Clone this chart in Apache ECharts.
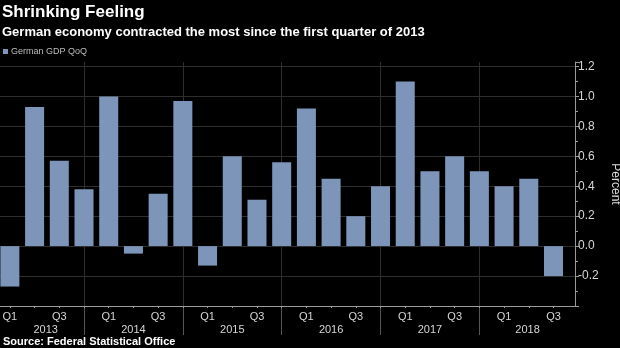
<!DOCTYPE html>
<html><head><meta charset="utf-8">
<script src="https://cdn.jsdelivr.net/npm/echarts@6/dist/echarts.min.js"></script>
<style>html,body{margin:0;padding:0;background:#000;}#c{width:620px;height:348px;}</style>
</head><body><div id="c"></div>
<script>
const categories = ['Q1 2013','Q2 2013','Q3 2013','Q4 2013','Q1 2014','Q2 2014','Q3 2014','Q4 2014',
  'Q1 2015','Q2 2015','Q3 2015','Q4 2015','Q1 2016','Q2 2016','Q3 2016','Q4 2016',
  'Q1 2017','Q2 2017','Q3 2017','Q4 2017','Q1 2018','Q2 2018','Q3 2018'];
const gdpQoQ = [-0.27,0.93,0.57,0.38,1.00,-0.05,0.35,0.97,-0.13,0.60,0.31,0.56,
  0.92,0.45,0.20,0.40,1.10,0.50,0.60,0.50,0.40,0.45,-0.20];
const years = ['2013','2014','2015','2016','2017','2018'];
const yTickLabels = ['-0.2','0.0','0.2','0.4','0.6','0.8','1.0','1.2'];

const X_MIN = -0.4, X_MAX = 22.87;
const qLabelIdx = [], allIdx = [], sepIdx = [];
categories.forEach((c, i) => {
  const q = c.split(' ')[0];
  allIdx.push(i);
  if (q === 'Q1' || q === 'Q3') qLabelIdx.push(i);
  if (q === 'Q4') sepIdx.push(i);
});
const bounds = [-0.1].concat(sepIdx).concat([22.9]);
const yearCenters = years.map((y, k) => (bounds[k] + bounds[k + 1]) / 2);

const axisColor = '#9a9a9a';
const labelColor = '#d6d6d6';
const font = 'Liberation Sans';
const gridColor = '#2e2e2e';

const chart = echarts.init(document.getElementById('c'));
chart.setOption({
  backgroundColor: '#000',
  animation: false,
  title: {
    text: 'Shrinking Feeling',
    subtext: 'German economy contracted the most since the first quarter of 2013',
    left: 0, top: 2, itemGap: 5, padding: [2, 2],
    textStyle: { color: '#fff', fontSize: 17, fontWeight: 'bold', fontFamily: font },
    subtextStyle: { color: '#fff', fontSize: 13, fontWeight: 'bold', fontFamily: font }
  },
  legend: {
    left: 3, top: 47, itemWidth: 5, itemHeight: 5, itemGap: 4, padding: 0,
    icon: 'rect',
    textStyle: { color: '#bdbdbd', fontSize: 9, fontFamily: font, padding: [0, 0, 0, -2] },
    data: ['German GDP QoQ']
  },
  graphic: [{
    type: 'text', left: 3, top: 336,
    style: { text: 'Source: Federal Statistical Office', fill: '#fff', font: 'bold 11px ' + font }
  }],
  grid: { left: 0, right: 45, top: 62, bottom: 42, containLabel: false, outerBoundsMode: 'none' },
  xAxis: [{
    type: 'value', min: X_MIN, max: X_MAX, position: 'bottom',
    axisLine: { show: true, onZero: false, lineStyle: { color: axisColor, width: 1 } },
    axisTick: { show: true, customValues: sepIdx, length: 29, lineStyle: { color: '#555' } },
    splitLine: { show: true, lineStyle: { color: gridColor, width: 1 } },
    axisLabel: {
      show: true, customValues: yearCenters, margin: 18, color: labelColor, fontSize: 11, fontFamily: font,
      formatter: v => { const k = yearCenters.findIndex(c => Math.abs(c - v) < 1e-6); return k >= 0 ? years[k] : ''; }
    }
  }, {
    type: 'value', min: X_MIN, max: X_MAX, position: 'bottom',
    axisLine: { show: false, onZero: false },
    axisTick: { show: true, customValues: allIdx, length: 2, lineStyle: { color: axisColor } },
    splitLine: { show: false },
    axisLabel: {
      show: true, customValues: qLabelIdx, margin: 5, color: labelColor, fontSize: 11, fontFamily: font,
      formatter: v => categories[Math.round(v)].split(' ')[0]
    }
  }],
  yAxis: {
    type: 'value', position: 'right', min: -0.4, max: 1.23, interval: 0.2,
    name: 'Percent', nameLocation: 'middle', nameRotate: -90, nameGap: 31,
    nameTextStyle: { color: '#ddd', fontSize: 12, fontFamily: font },
    axisLine: { show: true, onZero: false, lineStyle: { color: axisColor } },
    axisTick: { show: true, length: 4, lineStyle: { color: axisColor } },
    minorTick: { show: true, splitNumber: 2, length: 3, lineStyle: { color: axisColor } },
    splitLine: { show: true, lineStyle: { color: [gridColor,gridColor,gridColor,gridColor,gridColor,gridColor,gridColor,gridColor,gridColor,'rgba(0,0,0,0)'] } },
    axisLabel: {
      color: labelColor, fontSize: 12, fontFamily: font, margin: 3,
      formatter: v => { const s = (Math.round(v * 10) / 10).toFixed(1); return yTickLabels.indexOf(s) >= 0 ? s : ''; }
    }
  },
  series: [{
    name: 'German GDP QoQ', type: 'bar', xAxisIndex: 0,
    barWidth: 19,
    itemStyle: { color: '#7d95b9' },
    data: gdpQoQ.map((v, i) => [i, v])
  }]
});
</script></body></html>
